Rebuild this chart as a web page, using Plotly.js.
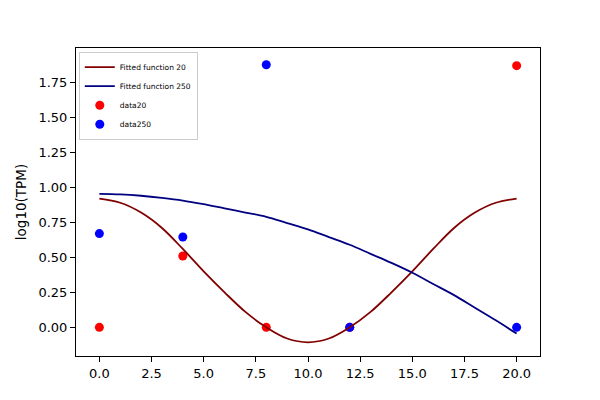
<!DOCTYPE html>
<html>
<head>
<meta charset="utf-8">
<script src="https://cdn.plot.ly/plotly-3.0.1.min.js"></script>
<style>
  body { margin: 0; }
  #graph { width: 600px; height: 400px; }
</style>
</head>
<body>
<div id="graph"></div>
<script>
// measured points
const dayPoints = [0, 4, 8, 12, 20];
const data20 = [0.00, 0.51, 0.00, 0.00, 1.87];
const data250 = [0.67, 0.645, 1.876, 0.00, 0.00];

// fitted curves
const fitX = [0, 1, 2, 3, 4, 5, 6, 7, 8, 9, 10, 11, 12, 13, 14, 15, 16, 17, 18, 19, 20];
const fit20 = [0.92, 0.89, 0.82, 0.71, 0.56, 0.40, 0.25, 0.11, 0.00, -0.08, -0.107,
               -0.08, 0.00, 0.11, 0.25, 0.40, 0.56, 0.71, 0.82, 0.89, 0.92];
const fit250 = [0.954, 0.95, 0.94, 0.925, 0.906, 0.88, 0.85, 0.82, 0.79, 0.745, 0.70,
                0.645, 0.59, 0.525, 0.46, 0.39, 0.31, 0.23, 0.14, 0.05, -0.045];

const xTicks = [0, 2.5, 5, 7.5, 10, 12.5, 15, 17.5, 20];
const xTickText = ['0.0', '2.5', '5.0', '7.5', '10.0', '12.5', '15.0', '17.5', '20.0'];
const yTicks = [0, 0.25, 0.5, 0.75, 1.0, 1.25, 1.5, 1.75];

const traces = [
    {
        x: dayPoints, y: data20, type: 'scatter', mode: 'markers', name: 'data20',
        marker: { color: 'red', size: 9 }, legendrank: 3
    },
    {
        x: dayPoints, y: data250, type: 'scatter', mode: 'markers', name: 'data250',
        marker: { color: 'blue', size: 9 }, legendrank: 4
    },
    {
        x: fitX, y: fit20, type: 'scatter', mode: 'lines', name: 'Fitted function 20',
        line: { color: '#800000', width: 1.8, shape: 'spline' }, legendrank: 1
    },
    {
        x: fitX, y: fit250, type: 'scatter', mode: 'lines', name: 'Fitted function 250',
        line: { color: '#000080', width: 1.8, shape: 'spline' }, legendrank: 2
    }
];

const axisCommon = {
    showgrid: false,
    zeroline: false,
    showline: true,
    linecolor: 'black',
    linewidth: 1,
    mirror: true,
    ticks: 'outside',
    ticklen: 5,
    tickwidth: 1,
    tickcolor: 'black',
    tickfont: { size: 13, color: 'black' }
};

const layout = {
    width: 600,
    height: 400,
    margin: { l: 76, r: 60, t: 48, b: 44 },
    paper_bgcolor: 'white',
    plot_bgcolor: 'white',
    font: { family: 'DejaVu Sans', color: 'black' },
    showlegend: true,
    legend: {
        x: 0.006, y: 0.988, xanchor: 'left', yanchor: 'top',
        bgcolor: 'rgba(255,255,255,0.8)',
        bordercolor: '#cccccc', borderwidth: 1,
        font: { size: 7.5 },
        itemwidth: 30,
        tracegroupgap: 0
    },
    xaxis: Object.assign({}, axisCommon, {
        range: [-1.12, 21.12],
        tickvals: xTicks,
        ticktext: xTickText
    }),
    yaxis: Object.assign({}, axisCommon, {
        range: [-0.205, 1.996],
        tickvals: yTicks,
        tickformat: '.2f',
        title: { text: 'log10(TPM)', font: { size: 13.5 }, standoff: 8 }
    })
};

Plotly.newPlot('graph', traces, layout, { displayModeBar: false });
</script>
</body>
</html>
